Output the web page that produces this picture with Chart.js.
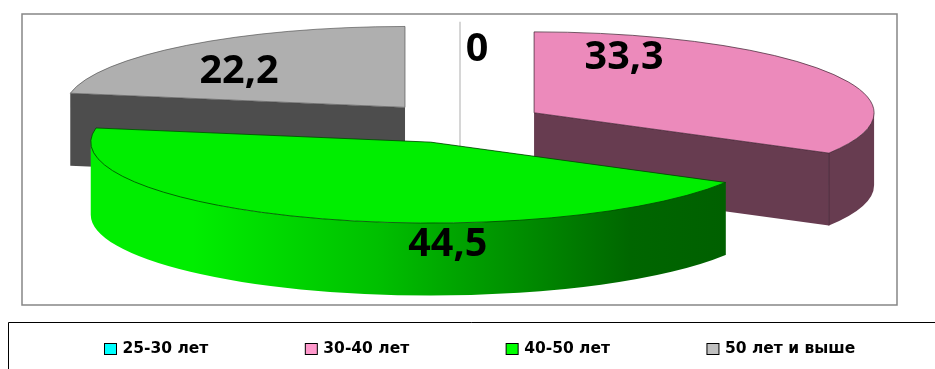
<!DOCTYPE html>
<html lang="ru">
<head>
    <meta charset="utf-8">
    <title>Возраст</title>
    <script src="https://cdn.jsdelivr.net/npm/chart.js"></script>
    <style>
        html, body { margin: 0; padding: 0; background: #fff; overflow: hidden; }
        canvas { display: block; }
    </style>
</head>
<body>
<canvas id="ageChart" width="935" height="369"></canvas>

<script>
    const labels = ['25-30 лет', '30-40 лет', '40-50 лет', '50 лет и выше'];
    const values = [0, 33.3, 44.5, 22.2];
    const topColors = ['#00ffff', '#ec8abb', '#00ee00', '#afafaf'];
    const wallColors = ['#c8c8c8', '#673c50', null, '#4d4d4d'];
    const edgeColors = ['#c8c8c8', 'rgba(60,30,45,0.7)', 'rgba(0,70,0,0.8)', 'rgba(70,70,70,0.6)'];
    const legendColors = ['#00ffff', '#ff99cc', '#00ff00', '#c0c0c0'];

    // look of the tilted, exploded pie
    const tilt = 0.238;
    const explode = 85.6;
    const depth = 72.5;

    function sliceCentre(arc) {
        const mid = (arc.startAngle + arc.endAngle) / 2;
        return {
            x: arc.x + Math.cos(mid) * explode,
            y: arc.y + Math.sin(mid) * explode * tilt
        };
    }

    function fillWalls(ctx, c, r, a1, a2) {
        const ry = r * tilt;
        const px = a => c.x + Math.cos(a) * r;
        const py = a => c.y + Math.sin(a) * ry;
        // both flat faces
        [a1, a2].forEach(a => {
            ctx.beginPath();
            ctx.moveTo(c.x, c.y);
            ctx.lineTo(px(a), py(a));
            ctx.lineTo(px(a), py(a) + depth);
            ctx.lineTo(c.x, c.y + depth);
            ctx.closePath();
            ctx.fill();
        });
        // curved face, only the part turned to the viewer
        const from = Math.max(a1, 0);
        const to = Math.min(a2, Math.PI);
        if (to <= from) return;
        ctx.beginPath();
        ctx.ellipse(c.x, c.y, r, ry, 0, from, to);
        ctx.lineTo(px(to), py(to) + depth);
        ctx.ellipse(c.x, c.y + depth, r, ry, 0, to, from, true);
        ctx.closePath();
        ctx.fill();
    }

    const pie3d = {
        id: 'pie3d',
        beforeDraw(chart) {
            const ctx = chart.ctx;
            ctx.save();
            ctx.strokeStyle = '#868686';
            ctx.lineWidth = 1.5;
            ctx.strokeRect(22, 14, 875, 291);
            ctx.strokeStyle = '#000';
            ctx.lineWidth = 1;
            ctx.beginPath();
            ctx.moveTo(8.5, 369);
            ctx.lineTo(8.5, 322.5);
            ctx.lineTo(935, 322.5);
            ctx.stroke();
            ctx.restore();
        },
        beforeDatasetsDraw(chart) {
            const ctx = chart.ctx;
            const arcs = chart.getDatasetMeta(0).data;
            [0, 3, 1, 2].forEach(i => {
                const arc = arcs[i];
                const c = sliceCentre(arc);
                const r = arc.outerRadius;
                const a1 = arc.startAngle;
                const a2 = arc.endAngle;

                ctx.save();
                if (values[i] === 0) {
                    // empty slice only shows as a thin line
                    ctx.strokeStyle = edgeColors[i];
                    ctx.lineWidth = 1.5;
                    ctx.beginPath();
                    ctx.moveTo(c.x, c.y - r * tilt);
                    ctx.lineTo(c.x, c.y + depth);
                    ctx.stroke();
                    ctx.restore();
                    return;
                }

                let wall = wallColors[i];
                if (!wall) {
                    wall = ctx.createLinearGradient(c.x - r, 0, c.x + r * 0.87, 0);
                    wall.addColorStop(0, '#00ee00');
                    wall.addColorStop(0.16, '#00ee00');
                    wall.addColorStop(0.45, '#00c000');
                    wall.addColorStop(0.85, '#006600');
                    wall.addColorStop(1, '#006000');
                }
                ctx.fillStyle = wall;
                fillWalls(ctx, c, r, a1, a2);

                // top face, the library's own arc squashed flat
                ctx.save();
                ctx.translate(c.x, c.y);
                ctx.scale(1, tilt);
                ctx.translate(-arc.x, -arc.y);
                arc.draw(ctx);
                ctx.restore();

                // thin edges
                const ex = Math.cos(a1) * r + c.x;
                const ey = Math.sin(a1) * r * tilt + c.y;
                const fx = Math.cos(a2) * r + c.x;
                const fy = Math.sin(a2) * r * tilt + c.y;
                ctx.strokeStyle = edgeColors[i];
                ctx.lineWidth = 1;
                ctx.beginPath();
                ctx.moveTo(ex, ey);
                ctx.ellipse(c.x, c.y, r, r * tilt, 0, a1, a2);
                ctx.stroke();
                ctx.beginPath();
                ctx.moveTo(ex, ey);
                ctx.lineTo(c.x, c.y);
                ctx.lineTo(fx, fy);
                ctx.stroke();
                if (Math.sin(a2) > 0) {
                    ctx.beginPath();
                    ctx.moveTo(fx, fy);
                    ctx.lineTo(fx, fy + depth);
                    ctx.stroke();
                }
                ctx.restore();
            });

            // value labels, shifted from each slice's centre
            const shift = [[17, -53], [90, -55], [17, 103], [-166, -36]];
            ctx.save();
            ctx.fillStyle = '#000';
            ctx.font = 'bold 39.5px "Open Sans"';
            ctx.textAlign = 'center';
            ctx.textBaseline = 'middle';
            arcs.forEach((arc, i) => {
                const c = sliceCentre(arc);
                ctx.fillText(String(values[i]).replace('.', ','), c.x + shift[i][0], c.y + shift[i][1]);
            });
            ctx.restore();

            // legend
            ctx.save();
            ctx.font = 'bold 15.5px "DejaVu Sans"';
            ctx.textBaseline = 'middle';
            let x = 104.5;
            labels.forEach((text, i) => {
                ctx.fillStyle = legendColors[i];
                ctx.fillRect(x, 343.5, 12, 11);
                ctx.strokeStyle = '#000';
                ctx.lineWidth = 1;
                ctx.strokeRect(x, 343.5, 12, 11);
                ctx.fillStyle = '#000';
                ctx.fillText(text, x + 18, 349);
                x += 18 + ctx.measureText(text).width + 97;
            });
            ctx.restore();
            return false;
        }
    };

    new Chart(document.getElementById('ageChart'), {
        type: 'pie',
        data: {
            labels: labels,
            datasets: [{
                data: values,
                backgroundColor: topColors,
                borderWidth: 0
            }]
        },
        options: {
            responsive: false,
            animation: false,
            radius: 340,
            layout: { padding: { right: 15, bottom: 123 } },
            plugins: {
                legend: { display: false },
                tooltip: { enabled: false }
            }
        },
        plugins: [pie3d]
    });
</script>
</body>
</html>
